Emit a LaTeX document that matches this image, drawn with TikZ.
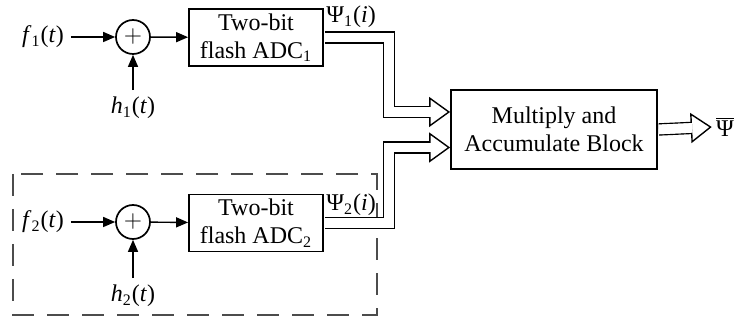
\documentclass[tikz,border=0pt]{standalone}
\usepackage{fontspec}
\setmainfont{Liberation Serif}
\usetikzlibrary{arrows.meta}
\newcommand{\sgn}[3]{\textit{#1}\textsubscript{#2}(\textit{#3})}

\tikzset{
  blk/.style={draw, line width=0.9pt, align=center, inner sep=0pt},
  sumnode/.style={draw, circle, line width=0.85pt, minimum size=17pt, inner sep=0pt},
  sig/.style={-{Triangle[length=6pt,width=5pt]}, line width=0.7pt},
  bus/.style={double, double distance=4.8pt, line width=0.7pt, shorten <=0.45pt,
    -{Triangle[open,length=10.5pt,width=15pt,fill=white]},
    postaction={draw=white, line width=4.8pt, arrows=-, shorten >=9.7pt}},
  grp/.style={draw=black!70, line width=0.6pt, dash pattern=on 11pt off 6.5pt}
}

\begin{document}
\begin{tikzpicture}[x=0.5pt, y=-0.5pt, font=\fontsize{12}{14}\selectfont]
		\useasboundingbox (0,0) rectangle (734,320);
		
		%% first channel
		\node (f1) at (43,37) {\sgn{f}{1}{t}};
		\node[sumnode] (sum1) at (133,37) {$+$};
		\node (h1) at (133,108) {\sgn{h}{1}{t}};
		\node[blk, minimum width=67pt, minimum height=28.5pt] (adc1) at (256,37.5) {Two-bit\\flash ADC\textsubscript{1}};
		\node[anchor=west, inner sep=0.5pt] (psi1) at (325,17) {Ψ\textsubscript{1}(\textit{i})};
		\draw[sig] (f1) -- (sum1);
		\draw[sig] (h1) -- (sum1);
		\draw[sig] (sum1) -- (adc1);
		
		%% second channel, dashed
		\draw[grp] (13,174) rectangle (377,315);
		\node (f2) at (43,222) {\sgn{f}{2}{t}};
		\node[sumnode] (sum2) at (133,222) {$+$};
		\node (h2) at (133,296) {\sgn{h}{2}{t}};
		\node[blk, minimum width=67pt, minimum height=28.5pt] (adc2) at (256,223) {Two-bit\\flash ADC\textsubscript{2}};
		\node[anchor=west, inner sep=0.5pt] (psi2) at (325,205) {Ψ\textsubscript{2}(\textit{i})};
		\draw[sig] (f2) -- (sum2);
		\draw[sig] (h2) -- (sum2);
		\draw[sig] (sum2) -- (adc2);
		
		%% MAC
		\node[blk, minimum width=103pt, minimum height=39.5pt] (mac) at (554,129.5) {Multiply and\\Accumulate Block};
		\node[inner sep=2pt] (psibar) at (725,127) {$\overline{\hbox{Ψ}}$};
		
		\draw[bus] (adc1.east) -- ++(65,0) |- ([yshift=8.75pt]mac.west);
		\draw[bus] (adc2.east) -- ++(65,0) |- ([yshift=-9pt]mac.west);
		\draw[bus] (mac.east) -- (psibar.west);
	\end{tikzpicture}
\end{document}
